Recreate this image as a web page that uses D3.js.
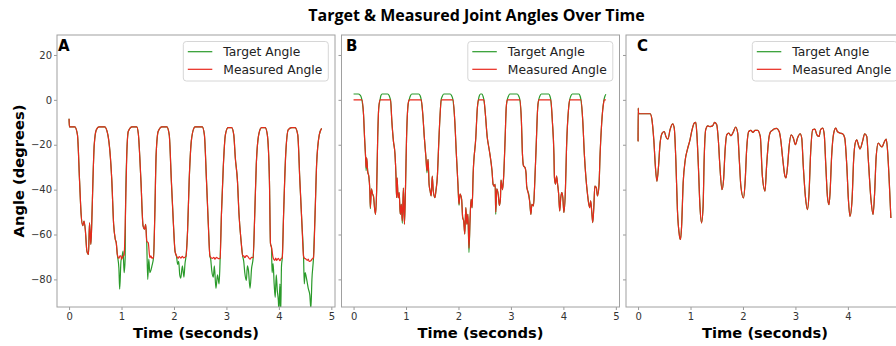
<!DOCTYPE html>
<html>
<head>
<meta charset="utf-8">
<script src="https://cdn.jsdelivr.net/npm/d3@7"></script>
<style>
  body { margin: 0; background: #fff; }
  svg { display: block; }
</style>
</head>
<body>
<div id="chart"></div>
<script>
// values: [time (s), angle (deg)]
const measuredA = [
  [0,-8.4],[0.005,-12],[0.11,-12],[0.16,-15.6],[0.2,-36],[0.23,-51],[0.26,-56],[0.285,-54],[0.31,-58],
  [0.34,-67.4],[0.37,-68.9],[0.39,-54.8],[0.415,-64.4],[0.43,-57],[0.455,-36],[0.48,-20],[0.52,-13.3],
  [0.57,-12],[0.68,-12],[0.74,-15.6],[0.815,-36],[0.85,-55.5],[0.88,-62],[0.9,-63.7],[0.92,-68.9],
  [0.95,-70.6],[0.97,-69.5],[0.99,-69.6],[1.0,-71],[1.02,-70],[1.05,-69],[1.075,-51],[1.1,-24.4],
  [1.13,-14],[1.2,-12],[1.29,-12],[1.32,-15],[1.37,-36],[1.41,-56],[1.44,-57.6],[1.46,-55.5],[1.48,-63],
  [1.51,-63.7],[1.54,-70.3],[1.56,-69.5],[1.58,-70.5],[1.61,-70.3],[1.635,-51],[1.66,-24.4],[1.7,-14],
  [1.77,-12],[1.865,-12],[1.91,-15.6],[1.95,-36],[1.99,-55.5],[2.02,-67.4],[2.05,-69.6],[2.08,-70.6],
  [2.1,-69.8],[2.13,-70.5],[2.16,-69.7],[2.18,-70.4],[2.23,-69.6],[2.26,-58],[2.29,-36],[2.33,-18.5],
  [2.38,-12.6],[2.4,-12],[2.54,-12],[2.58,-15.6],[2.62,-36],[2.655,-55.5],[2.685,-69.6],[2.71,-70.4],
  [2.73,-70.6],[2.76,-70.2],[2.78,-71],[2.81,-70.2],[2.83,-70.5],[2.86,-70.8],[2.88,-70.6],[2.905,-51],
  [2.94,-30],[2.98,-15.6],[3.03,-12.4],[3.1,-12.4],[3.14,-15.6],[3.17,-26],[3.21,-36],[3.24,-51],
  [3.28,-63],[3.31,-69.6],[3.33,-69.5],[3.35,-70.3],[3.38,-69.4],[3.4,-69.6],[3.43,-70.5],[3.45,-71],
  [3.48,-70.2],[3.51,-70.3],[3.54,-51],[3.57,-28.5],[3.62,-15],[3.67,-12.4],[3.74,-12.4],[3.78,-15.6],
  [3.82,-36],[3.84,-64],[3.86,-65.7],[3.89,-70.3],[3.92,-71.5],[3.94,-70.5],[3.96,-71.5],[3.99,-70.6],
  [4.02,-71.7],[4.04,-70.8],[4.065,-70.3],[4.09,-51],[4.13,-24.4],[4.18,-13.3],[4.245,-12.4],[4.31,-12.4],
  [4.36,-15.6],[4.4,-36],[4.44,-55.5],[4.47,-69.6],[4.49,-70.6],[4.51,-70.8],[4.54,-71.5],[4.56,-71],
  [4.58,-72],[4.61,-71.7],[4.63,-71],[4.66,-70.3],[4.69,-51],[4.72,-28.5],[4.77,-15.6],[4.815,-12.7]
];

const targetA = [
  [0,-8.4],[0.005,-12],[0.11,-12],[0.16,-15.6],[0.2,-36],[0.23,-51],[0.26,-56],[0.285,-54],[0.31,-58],
  [0.34,-67.4],[0.37,-68.9],[0.39,-54.8],[0.415,-64.4],[0.43,-57],[0.455,-36],[0.48,-20],[0.52,-13.3],
  [0.57,-12],[0.68,-12],[0.74,-15.6],[0.815,-36],[0.85,-55.5],[0.88,-62],[0.9,-63.7],[0.92,-68.9],
  [0.95,-75],[0.965,-84.4],[0.99,-71.7],[1.01,-70],[1.03,-67.4],[1.05,-77],[1.07,-70.3],[1.075,-51],
  [1.1,-24.4],[1.13,-14],[1.2,-12],[1.29,-12],[1.32,-15],[1.37,-36],[1.41,-56],[1.44,-57.6],[1.46,-55.5],
  [1.48,-63],[1.5,-80],[1.52,-71],[1.54,-77],[1.56,-76],[1.58,-74],[1.61,-70.3],[1.635,-51],[1.66,-24.4],
  [1.7,-14],[1.77,-12],[1.865,-12],[1.91,-15.6],[1.95,-36],[1.99,-55.5],[2.02,-67.4],[2.05,-70],
  [2.07,-73.3],[2.09,-72],[2.11,-78],[2.13,-79.4],[2.16,-74],[2.19,-79],[2.21,-73],[2.23,-69.6],[2.26,-58],
  [2.29,-36],[2.33,-18.5],[2.38,-12.6],[2.4,-12],[2.54,-12],[2.58,-15.6],[2.62,-36],[2.655,-55.5],
  [2.685,-69.6],[2.7,-71],[2.72,-76],[2.75,-79],[2.77,-74],[2.8,-84],[2.83,-78],[2.86,-82],[2.88,-71],
  [2.905,-51],[2.94,-30],[2.98,-15.6],[3.03,-12.4],[3.1,-12.4],[3.14,-15.6],[3.17,-26],[3.21,-36],
  [3.24,-51],[3.28,-63],[3.31,-69.6],[3.33,-72],[3.35,-77],[3.38,-80.4],[3.4,-74],[3.42,-76],[3.45,-84],
  [3.48,-75],[3.51,-70.3],[3.54,-51],[3.57,-28.5],[3.62,-15],[3.67,-12.4],[3.74,-12.4],[3.78,-15.6],
  [3.82,-36],[3.84,-64],[3.86,-66],[3.87,-77],[3.89,-73],[3.91,-82],[3.93,-88],[3.95,-78],[3.97,-85],
  [3.99,-89.5],[4.0,-94],[4.02,-82],[4.035,-95],[4.05,-74],[4.065,-70.3],[4.09,-51],[4.13,-24.4],
  [4.18,-13.3],[4.245,-12.4],[4.31,-12.4],[4.36,-15.6],[4.4,-36],[4.44,-55.5],[4.47,-69.6],[4.485,-82],
  [4.5,-77],[4.53,-80],[4.56,-84],[4.59,-87],[4.61,-93],[4.63,-80],[4.66,-70.3],[4.69,-51],[4.72,-28.5],
  [4.77,-15.6],[4.815,-12.7]
];

const measuredB = [
  [0,0],[0.16,0],[0.19,-6.5],[0.21,-17],[0.23,-25.8],[0.24,-30.2],[0.25,-25.8],[0.27,-32],[0.29,-34],
  [0.31,-40.3],[0.32,-48],[0.34,-39.6],[0.36,-41.8],[0.38,-43],[0.4,-48],[0.42,-51],[0.44,-40.3],
  [0.46,-17],[0.48,-3.6],[0.505,0],[0.705,0],[0.73,-9.5],[0.76,-18.4],[0.79,-24.3],[0.81,-34.7],
  [0.82,-43.6],[0.83,-34.7],[0.85,-43.6],[0.87,-41.3],[0.89,-51],[0.91,-46.6],[0.93,-54],[0.95,-39.3],
  [0.97,-55.4],[0.99,-39.3],[1.01,-17],[1.04,-2],[1.06,0],[1.29,0],[1.32,-6.5],[1.35,-17],[1.38,-25.8],
  [1.4,-31.7],[1.42,-26.5],[1.44,-37.6],[1.46,-40.6],[1.48,-42.8],[1.5,-34],[1.52,-40.6],[1.55,-43.6],
  [1.57,-40.6],[1.6,-33.2],[1.62,-21.5],[1.65,-6.5],[1.67,0],[1.895,0],[1.93,-9.5],[1.96,-24.3],
  [1.99,-37.6],[2.01,-46.5],[2.03,-42],[2.06,-44.3],[2.08,-52.4],[2.1,-54],[2.12,-59.8],[2.14,-48],
  [2.16,-55.4],[2.18,-51],[2.2,-66],[2.22,-54],[2.24,-44.3],[2.26,-48],[2.28,-33],[2.33,-17],[2.36,-3.6],
  [2.38,0],[2.485,0],[2.51,-5.5],[2.55,-17],[2.57,-20],[2.6,-24.3],[2.64,-31.7],[2.66,-37.6],[2.68,-38.4],
  [2.7,-37.6],[2.71,-50],[2.73,-39.6],[2.76,-42.5],[2.78,-47],[2.8,-44],[2.81,-35.8],[2.84,-40],
  [2.86,-34.7],[2.89,-17],[2.91,-3.6],[2.93,0],[3.17,0],[3.2,-9.5],[3.22,-24.3],[3.24,-29.4],[3.27,-30.2],
  [3.29,-33.2],[3.3,-38.4],[3.32,-40.6],[3.34,-42.8],[3.36,-45.8],[3.38,-51],[3.4,-46.6],[3.43,-47.3],
  [3.45,-39.3],[3.48,-21.5],[3.51,-3.6],[3.53,0],[3.76,0],[3.79,-9.5],[3.82,-24.3],[3.83,-34.7],
  [3.85,-37.6],[3.87,-34],[3.89,-37.6],[3.91,-42],[3.93,-49.5],[3.95,-43.6],[3.97,-41.3],[3.99,-43.6],
  [4.01,-50.2],[4.04,-39.3],[4.06,-21.5],[4.1,-3.6],[4.12,0],[4.335,0],[4.37,-9.5],[4.4,-24.3],
  [4.43,-34.7],[4.46,-42],[4.5,-48],[4.52,-45],[4.54,-49.5],[4.56,-54.7],[4.58,-48],[4.6,-38.4],
  [4.63,-39.3],[4.65,-42.8],[4.68,-37.6],[4.7,-24.3],[4.73,-10.4],[4.77,-1],[4.78,0],[4.81,0]
];

const targetB = [
  [0,2.6],[0.09,2.6],[0.125,2.1],[0.15,0.9],[0.165,-0.8],[0.19,-6.5],[0.21,-17],[0.23,-25.8],[0.24,-31.5],
  [0.25,-25.8],[0.27,-32],[0.29,-34],[0.31,-40.3],[0.32,-48.5],[0.34,-39.6],[0.36,-41.8],[0.38,-43],
  [0.4,-48],[0.42,-51],[0.44,-40.3],[0.46,-17],[0.48,-3.6],[0.505,0],[0.52,1.8],[0.545,2.6],[0.65,2.6],
  [0.68,1.8],[0.7,0.4],[0.705,0],[0.73,-9.5],[0.76,-18.4],[0.79,-24.3],[0.81,-34.7],[0.82,-43.6],
  [0.83,-34.7],[0.85,-43.6],[0.87,-41.3],[0.89,-51],[0.91,-46.6],[0.93,-55],[0.95,-39.3],[0.97,-55.4],
  [0.99,-39.3],[1.01,-17],[1.04,-2],[1.06,0],[1.08,1.6],[1.11,2.6],[1.24,2.6],[1.27,1.8],[1.29,0],
  [1.32,-6.5],[1.35,-17],[1.38,-25.8],[1.4,-32.5],[1.42,-26.5],[1.44,-37.6],[1.46,-40.6],[1.48,-42.8],
  [1.5,-34],[1.52,-40.6],[1.55,-43.6],[1.57,-40.6],[1.6,-33.2],[1.62,-21.5],[1.65,-6.5],[1.67,0],
  [1.69,1.5],[1.72,2.6],[1.84,2.6],[1.87,1.8],[1.895,0],[1.93,-9.5],[1.96,-24.3],[1.99,-37.6],
  [2.01,-47],[2.03,-42],[2.06,-44.3],[2.08,-52.4],[2.1,-54],[2.12,-59.8],[2.14,-48],[2.16,-55.4],
  [2.18,-51],[2.2,-68],[2.22,-54],[2.24,-44.3],[2.26,-48],[2.28,-33],[2.33,-17],[2.36,-3.6],[2.38,0],
  [2.395,1.6],[2.42,2.6],[2.45,2.6],[2.47,1.5],[2.485,0],[2.51,-5.5],[2.55,-17],[2.57,-20],[2.6,-24.3],
  [2.64,-31.7],[2.66,-37.6],[2.68,-38.4],[2.7,-37.6],[2.71,-51],[2.73,-39.6],[2.76,-42.5],[2.78,-47],
  [2.8,-44],[2.81,-35.8],[2.84,-40],[2.86,-34.7],[2.89,-17],[2.91,-3.6],[2.93,0],[2.95,1.5],[2.98,2.6],
  [3.12,2.6],[3.15,1.6],[3.17,0],[3.2,-9.5],[3.22,-24.3],[3.24,-29.4],[3.27,-30.2],[3.29,-33.2],
  [3.3,-38.4],[3.32,-40.6],[3.34,-42],[3.36,-45.8],[3.38,-51],[3.4,-46.6],[3.43,-47.3],[3.45,-39.3],
  [3.48,-21.5],[3.51,-3.6],[3.53,0],[3.55,1.6],[3.58,2.6],[3.72,2.6],[3.745,1.6],[3.76,0],[3.79,-9.5],
  [3.82,-24.3],[3.83,-34.7],[3.85,-37.6],[3.87,-34],[3.89,-37.6],[3.91,-42],[3.93,-49.5],[3.95,-43.6],
  [3.97,-41.3],[3.99,-43.6],[4.01,-50.2],[4.04,-39.3],[4.06,-21.5],[4.1,-3.6],[4.12,0],[4.14,1.6],
  [4.17,2.6],[4.3,2.6],[4.32,1.6],[4.335,0],[4.37,-9.5],[4.4,-24.3],[4.43,-34.7],[4.46,-42],[4.5,-48],
  [4.52,-45],[4.54,-49.5],[4.56,-54.7],[4.58,-48],[4.6,-38.4],[4.63,-39.3],[4.65,-42.8],[4.68,-37.6],
  [4.7,-24.3],[4.73,-10.4],[4.77,-0.5],[4.79,1.5],[4.81,2.5]
];

const measuredC = [
  [0,-18.5],[0.003,-3.7],[0.01,-6.2],[0.23,-6.2],[0.26,-8.1],[0.3,-17.8],[0.33,-29.6],[0.36,-36.3],
  [0.39,-29.6],[0.42,-19.3],[0.46,-14.8],[0.5,-14.1],[0.53,-16.3],[0.57,-17.5],[0.61,-13.3],[0.66,-10.7],
  [0.69,-12.6],[0.72,-26.7],[0.75,-48.9],[0.79,-60.7],[0.81,-62.2],[0.83,-56.3],[0.86,-37],[0.9,-26.7],
  [0.94,-22.2],[0.99,-17.8],[1.03,-13.3],[1.07,-10.4],[1.1,-10],[1.12,-14.8],[1.15,-29.6],[1.18,-47.4],
  [1.21,-54.8],[1.24,-47.4],[1.26,-26.7],[1.29,-13.3],[1.33,-11.6],[1.37,-11.9],[1.42,-11.6],[1.46,-10],
  [1.5,-11.1],[1.53,-17.8],[1.56,-29.6],[1.6,-40],[1.63,-35.6],[1.66,-22.2],[1.69,-15.6],[1.73,-14.8],
  [1.77,-16],[1.82,-14.1],[1.86,-12.1],[1.9,-14.8],[1.93,-26.7],[1.96,-38.5],[2.01,-43.7],[2.04,-37],
  [2.07,-22.2],[2.11,-14.1],[2.15,-13.6],[2.19,-14.5],[2.23,-13.6],[2.28,-13.6],[2.33,-16.3],[2.37,-34],
  [2.42,-40.7],[2.45,-29.6],[2.49,-17.8],[2.52,-14.5],[2.56,-13.6],[2.59,-13],[2.64,-12.7],[2.69,-14.1],
  [2.72,-17.8],[2.76,-26.7],[2.8,-34],[2.82,-34.8],[2.85,-29.6],[2.88,-20.7],[2.92,-15.6],[2.96,-17],
  [3.0,-20],[3.04,-17],[3.09,-15.1],[3.12,-17],[3.15,-29.6],[3.19,-43],[3.23,-48.9],[3.26,-41.5],
  [3.29,-23.7],[3.33,-13.3],[3.37,-13],[3.41,-15.6],[3.45,-16.3],[3.48,-13.3],[3.52,-12.6],[3.55,-15.6],
  [3.58,-29.6],[3.61,-43],[3.64,-46.7],[3.66,-41.5],[3.69,-25.2],[3.73,-14.8],[3.77,-12.6],[3.8,-14.1],
  [3.85,-14.8],[3.9,-15.1],[3.94,-17],[3.98,-29.6],[4.01,-44.4],[4.04,-51.9],[4.08,-44.4],[4.11,-26.7],
  [4.14,-19.3],[4.17,-17.8],[4.2,-20],[4.23,-21.9],[4.28,-18.5],[4.32,-15.1],[4.36,-16.3],[4.39,-26.7],
  [4.44,-44.4],[4.48,-51.1],[4.51,-41.5],[4.54,-25.2],[4.58,-19.3],[4.62,-20.4],[4.65,-21],[4.69,-19],
  [4.73,-17.5],[4.75,-20.7],[4.79,-37],[4.82,-52.6]
];
// in panel C the target trace sits entirely under the measured one
const targetC = measuredC;

const panelLetters = ["A", "B", "C"];
const seriesNames = ["Target Angle", "Measured Angle"];
const xTicks = [0, 1, 2, 3, 4, 5];
const yTicks = [-80, -60, -40, -20, 0, 20];

const W = 896, H = 346;
const plotTop = 35, plotBottom = 307, pw = 278;
const lefts = [57, 341.5, 626];
const letterX = [58, 346, 637];
const targetColor = "#2a9a2a", measuredColor = "#e8281c";
const font = "DejaVu Sans, sans-serif";

const svg = d3.select("#chart").append("svg").attr("width", W).attr("height", H);

svg.append("text")
  .attr("x", 476.5).attr("y", 21)
  .attr("text-anchor", "middle")
  .attr("font-family", "Open Sans, sans-serif")
  .attr("font-weight", "bold")
  .attr("font-size", 16)
  .attr("fill", "#000")
  .text("Target & Measured Joint Angles Over Time");

const y = d3.scaleLinear().domain([-92.3, 28.9]).range([plotBottom, plotTop]);

const panels = [
  { target: targetA, measured: measuredA },
  { target: targetB, measured: measuredB },
  { target: targetC, measured: measuredC },
];

panels.forEach(function (p, i) {
  const left = lefts[i];
  const x = d3.scaleLinear().domain([-0.23, 5.07]).range([left, left + pw]);
  const g = svg.append("g");

  g.append("clipPath").attr("id", "clip" + i)
    .append("rect").attr("x", left).attr("y", plotTop).attr("width", pw).attr("height", plotBottom - plotTop);

  const line = d3.line()
    .x(d => x(d[0]))
    .y(d => y(d[1]))
    .curve(d3.curveMonotoneX);

  const lines = g.append("g").attr("clip-path", "url(#clip" + i + ")");
  lines.append("path").datum(p.target)
    .attr("d", line).attr("fill", "none")
    .attr("stroke", targetColor).attr("stroke-width", 1.2);
  lines.append("path").datum(p.measured)
    .attr("d", line).attr("fill", "none")
    .attr("stroke", measuredColor).attr("stroke-width", 1.2);

  // x axis, only ticks that fall inside the window
  const xa = g.append("g").attr("transform", `translate(0,${plotBottom})`)
    .call(d3.axisBottom(x).tickValues(xTicks.filter(d => x(d) < W - 4))
      .tickFormat(d3.format("d")).tickSize(3).tickPadding(2.5));
  xa.select(".domain").remove();
  xa.selectAll("line").attr("stroke", "#999");
  xa.selectAll("text").attr("font-family", font).attr("font-size", 10).attr("fill", "#333");

  // y axis (labels only on the first panel)
  const ya = g.append("g").attr("transform", `translate(${left},0)`)
    .call(d3.axisLeft(y).tickValues(yTicks).tickSize(3).tickPadding(2));
  ya.select(".domain").remove();
  ya.selectAll("line").attr("stroke", "#999");
  ya.selectAll("text").attr("font-family", font).attr("font-size", 10).attr("fill", "#333");
  if (i > 0) ya.selectAll("text").remove();

  // spines
  g.append("rect")
    .attr("x", left).attr("y", plotTop).attr("width", pw).attr("height", plotBottom - plotTop)
    .attr("fill", "none").attr("stroke", "#a0a0a0").attr("stroke-width", 1);

  g.append("text")
    .attr("x", letterX[i]).attr("y", 50.7)
    .attr("font-family", font).attr("font-weight", "bold").attr("font-size", 15)
    .text(panelLetters[i]);

  // legend
  const lx = left + pw - 6.7 - 145;
  const lg = g.append("g");
  lg.append("rect")
    .attr("x", lx).attr("y", 41.5).attr("width", 145).attr("height", 39.5).attr("rx", 3)
    .attr("fill", "#fff").attr("fill-opacity", 0.8)
    .attr("stroke", "#d6d6d6").attr("stroke-width", 1);
  [targetColor, measuredColor].forEach(function (c, k) {
    const ry = 51.7 + k * 17.6;
    lg.append("line")
      .attr("x1", lx + 4.5).attr("x2", lx + 29).attr("y1", ry).attr("y2", ry)
      .attr("stroke", c).attr("stroke-width", 1.2);
    lg.append("text")
      .attr("x", lx + 40).attr("y", ry + 4.4)
      .attr("font-family", font).attr("font-size", 12.3).attr("fill", "#222")
      .text(seriesNames[k]);
  });

  g.append("text")
    .attr("x", left + pw / 2).attr("y", 337.5)
    .attr("text-anchor", "middle")
    .attr("font-family", font).attr("font-weight", "bold").attr("font-size", 14.7)
    .text("Time (seconds)");
});

svg.append("text")
  .attr("transform", "translate(24,171) rotate(-90)")
  .attr("text-anchor", "middle")
  .attr("font-family", font).attr("font-weight", "bold").attr("font-size", 14.7)
  .text("Angle (degrees)");
</script>
</body>
</html>
